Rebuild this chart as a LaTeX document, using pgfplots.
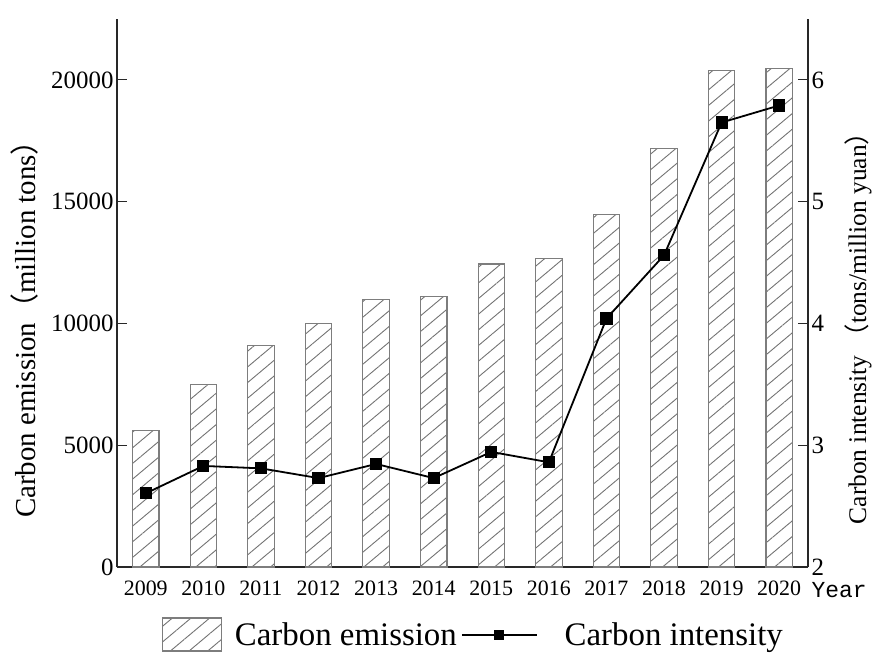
\documentclass[border=0pt]{standalone}
\usepackage{fontspec}
\setmainfont{Liberation Serif}
\newfontfamily\cjk{Noto Sans CJK SC}
\newfontfamily\yearfont{Liberation Mono}
\usepackage{pgfplots}
\pgfplotsset{compat=1.18}
\usetikzlibrary{patterns.meta}

\definecolor{barline}{RGB}{125,125,125}
\definecolor{hatch}{RGB}{115,115,115}
\definecolor{axline}{RGB}{40,40,40}

\tikzset{
  hatched/.style={draw=barline, line width=1.1bp,
    pattern={Lines[angle=40,distance=12bp,line width=0.9bp]}, pattern color=hatch},
}

\pgfplotsset{
  common/.style={
    width=691bp, height=548bp, scale only axis,
    xmin=2008.5, xmax=2020.5,
    tick align=inside, major tick length=10bp,
    axis line style={color=axline, line width=1.3bp},
    every tick/.style={color=axline, line width=1.2bp},
    yticklabel style={font=\fontsize{25}{28}\selectfont},
    xticklabel style={font=\fontsize{22}{25}\selectfont},
    /pgf/number format/assume math mode=true,
    /pgf/number format/1000 sep={},
    scaled ticks=false,
  },
  linelegend/.style={legend image code/.code={
    \draw[mark repeat=2,mark phase=2,##1, mark size=4bp]
      plot coordinates {(0bp,0bp) (37.5bp,0bp) (75bp,0bp)};
    \path (100bp,0bp);}},
  barlegend/.style={legend image code/.code={
    \draw[hatched] (0bp,-16bp) rectangle (59bp,17bp);
    \path (70bp,0bp);}},
}

\begin{document}
\begin{tikzpicture}
\useasboundingbox (-117bp,-86bp) rectangle (755bp,567bp);

\begin{axis}[common,
  axis y line*=left, axis x line*=bottom,
  ymin=0, ymax=22500,
  ytick={0,5000,10000,15000,20000},
  xtick={2009,...,2020},
  xticklabels={2009,2010,2011,2012,2013,2014,2015,2016,2017,2018,2019,2020},
  x tick style={draw=none},
  ybar, bar width=0.46,
]
\addplot[hatched]
coordinates {
  (2009,5600) (2010,7480) (2011,9080) (2012,9980) (2013,10970) (2014,11090)
  (2015,12440) (2016,12650) (2017,14480) (2018,17200) (2019,20380) (2020,20450)
};
\end{axis}

\begin{axis}[common,
  axis y line*=right, axis x line=none,
  ymin=2, ymax=6.5,
  ytick={2,3,4,5,6},
  legend style={at={(0.516,-0.088)}, anchor=north, draw=none, fill=none,
    font=\fontsize{33}{37}\selectfont, legend columns=2,
    /tikz/every even column/.append style={column sep=2bp}},
]
\addlegendimage{barlegend}
\addlegendentry{Carbon emission}
\addplot[color=black, line width=1.8bp, mark=square*, mark size=5.2bp, linelegend]
coordinates {
  (2009,2.605) (2010,2.83) (2011,2.81) (2012,2.73) (2013,2.846) (2014,2.73)
  (2015,2.945) (2016,2.86) (2017,4.04) (2018,4.56) (2019,5.65) (2020,5.79)
};
\addlegendentry{Carbon intensity}
\end{axis}

\node[rotate=90, anchor=center, font=\fontsize{29}{32}\selectfont]
  at (-92bp,245bp) {Carbon emission{\cjk （}million tons{\cjk ）}};
\node[rotate=90, anchor=center, font=\fontsize{25.5}{28}\selectfont]
  at (741bp,245bp) {Carbon intensity {\cjk （}tons/million yuan{\cjk ）}};
\node[anchor=west, font=\yearfont\fontsize{23}{26}\selectfont]
  at (691bp,-23bp) {Year};
\end{tikzpicture}
\end{document}
